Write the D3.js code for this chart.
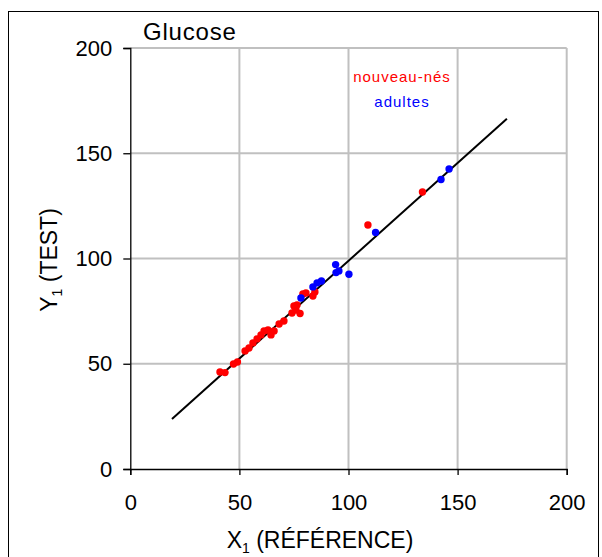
<!DOCTYPE html>
<html><head><meta charset="utf-8">
<script src="https://cdn.jsdelivr.net/npm/d3@7"></script>
<style>body{margin:0;background:#fff}svg{display:block;font-family:"Liberation Sans",Arial,sans-serif}</style>
</head><body><svg id="c" width="602" height="557"></svg>
<script>
const title = "Glucose";
const xTicks = [0, 50, 100, 150, 200];
const yTicks = [0, 50, 100, 150, 200];
const seriesNames = ["nouveau-nés", "adultes"];
const seriesColors = ["#ff0000", "#0000ff"];
const newbornX = [41.1,43.4,47.3,49.1,52.6,54.4,56.2,58.1,59.9,61.3,63.1,64.5,65.9,68.2,70.4,74.1,75.9,75.0,76.4,77.8,79.1,80.5,83.7,84.6,108.9,133.9];
const newbornY = [46.1,45.8,49.9,50.8,56.1,57.5,59.9,61.8,63.7,65.6,66.0,63.7,65.6,68.9,70.3,74.1,75.5,77.4,77.9,73.9,83.1,83.6,82.2,84.1,115.9,131.6];
const adultX = [78.2,83.7,85.6,87.6,94.1,94.3,95.6,100.2,112.4,142.4,146.1];
const adultY = [81.2,86.5,88.4,89.3,97.1,93.3,94.1,92.5,112.4,137.5,142.5];
const regIntercept = 6.0, regSlope = 0.929, regRange = [19.1, 172.6];

const svg = d3.select("#c");
svg.append("rect").attr("x",8.5).attr("y",11.5).attr("width",590).attr("height",560)
  .attr("fill","none").attr("stroke","#000").attr("stroke-width",1);

const L=130.3, R=566.7, T=48, B=469;
const x = d3.scaleLinear().domain([0,200]).range([L,R]);
const y = d3.scaleLinear().domain([0,200]).range([B,T]);

// gridlines
svg.append("g").selectAll("line").data(xTicks.slice(1)).join("line")
  .attr("x1",d=>x(d)).attr("x2",d=>x(d)).attr("y1",T).attr("y2",B)
  .attr("stroke","#c0c0c0").attr("stroke-width",2);
svg.append("g").selectAll("line").data(yTicks.slice(1)).join("line")
  .attr("y1",d=>y(d)).attr("y2",d=>y(d)).attr("x1",L).attr("x2",R)
  .attr("stroke","#c0c0c0").attr("stroke-width",2);

// axes
const xAxis = svg.append("g").attr("transform",`translate(0,${B})`)
  .call(d3.axisBottom(x).tickValues(xTicks).tickSize(6).tickPadding(19).tickFormat(d3.format("d")));
const yAxis = svg.append("g").attr("transform",`translate(${L},0)`)
  .call(d3.axisLeft(y).tickValues(yTicks).tickSize(7).tickPadding(11).tickFormat(d3.format("d")));
[xAxis,yAxis].forEach(a=>{
  a.select(".domain").attr("stroke","#000").attr("stroke-width",1.3);
  a.selectAll(".tick line").attr("stroke","#000").attr("stroke-width",1.3);
  a.selectAll(".tick text").attr("fill","#000").style("font-size","22px")
    .style("font-family","'Liberation Sans',Arial,sans-serif");
});

// regression line
svg.append("line")
  .attr("x1",x(regRange[0])).attr("y1",y(regIntercept+regSlope*regRange[0]))
  .attr("x2",x(regRange[1])).attr("y2",y(regIntercept+regSlope*regRange[1]))
  .attr("stroke","#000").attr("stroke-width",2);

// points
const newborn = newbornX.map((v,i)=>({x:v,y:newbornY[i]}));
const adults = adultX.map((v,i)=>({x:v,y:adultY[i]}));
svg.append("g").selectAll("circle").data(newborn).join("circle")
  .attr("cx",d=>x(d.x)).attr("cy",d=>y(d.y)).attr("r",3.7).attr("fill",seriesColors[0]);
svg.append("g").selectAll("circle").data(adults).join("circle")
  .attr("cx",d=>x(d.x)).attr("cy",d=>y(d.y)).attr("r",3.7).attr("fill",seriesColors[1]);

// title
svg.append("text").attr("x",143).attr("y",40).attr("font-size",24).attr("letter-spacing","0.8px").text(title);

// legend
seriesNames.forEach((n,i)=>{
  svg.append("text").attr("x",402).attr("y",82+i*24.5).attr("text-anchor","middle")
    .attr("font-size",15).attr("letter-spacing","1px").attr("fill",seriesColors[i]).text(n);
});

// axis titles
const xt = svg.append("text").attr("x",320).attr("y",548).attr("text-anchor","middle").attr("font-size",23);
xt.append("tspan").text("X");
xt.append("tspan").attr("font-size",14).attr("dy",5).text("1");
xt.append("tspan").attr("dy",-5).text(" (RÉFÉRENCE)");
const yt = svg.append("text").attr("transform","translate(57,260) rotate(-90)").attr("text-anchor","middle").attr("font-size",23);
yt.append("tspan").text("Y");
yt.append("tspan").attr("font-size",14).attr("dy",5).text("1");
yt.append("tspan").attr("dy",-5).text(" (TEST)");
</script></body></html>
